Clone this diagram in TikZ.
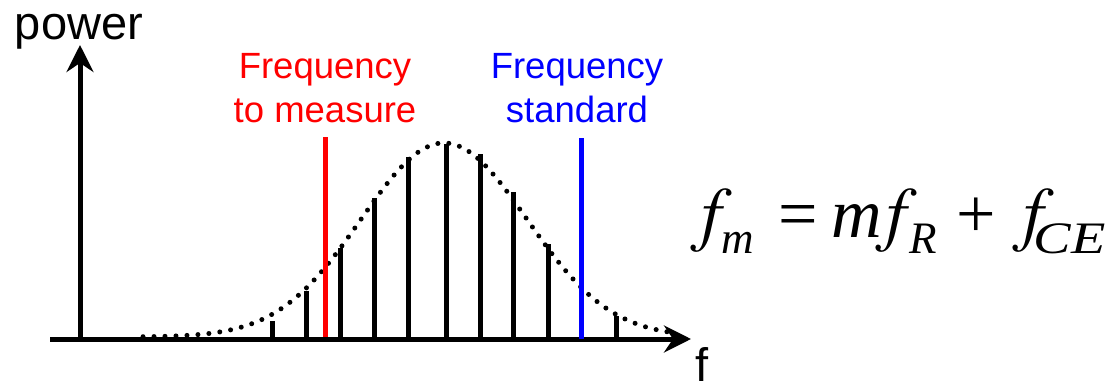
\documentclass[tikz,border=0pt]{standalone}
\usepackage{mathptmx}
\usepackage{fontspec}
\setmainfont{Liberation Sans}
\newfontfamily\timesf{Liberation Serif}
\usetikzlibrary{arrows.meta}
% offset, raise, size, x-scale, text
\newcommand\fpiece[5]{\makebox[0pt][l]{\kern#1pt\raisebox{#2pt}{\scalebox{#4}[1]{\fontsize{#3}{#3}\selectfont\timesf #5}}}}
\begin{document}
\begin{tikzpicture}[x=1pt,y=-1pt,
  axis/.style={line width=5pt,-{Stealth[length=27pt,width=27pt,inset=9pt]}},
  specline/.style={line width=5pt},
  lbl/.style={font=\fontsize{36.5}{44}\selectfont,inner sep=0pt,anchor=base},
  envelope/.style={line width=5pt,line cap=round,dash pattern=on 0pt off 11pt}]
\useasboundingbox (0,0) rectangle (1117,382);
% axes
\coordinate (xstart) at (50,339);
\coordinate (xend) at (691,339);
\coordinate (ystart) at (80,341);
\coordinate (ytop) at (80,45);
\draw[axis] (xstart) -- (xend);
\draw[axis] (ystart) -- (ytop);
\node[inner sep=0pt,anchor=base,font=\fontsize{47}{50}\selectfont] (power) at (79,40) {power};
\node[inner sep=0pt,anchor=north west,font=\fontsize{47}{50}\selectfont] (flab) at (695,347) {f};
% comb lines
\foreach \px/\top in {272/321,306/291,340/248,374/198,408/157,446/144,480/154,513/192,548/244,616/316}{
  \draw[specline] (\px,339) -- (\px,\top);
}
% envelope
\draw[envelope] plot[domain=143:667,samples=120] (\x,{337-194*exp(-((\x-444)/100)^2/1.3778)});
% measured frequency
\draw[line width=5pt,red] (325,337) -- (325,137);
\node[lbl,text=red] (meas1) at (325,79) {Frequency};
\node[lbl,text=red] (meas2) at (325,123) {to measure};
% standard
\draw[line width=5pt,blue] (581,339) -- (581,138);
\node[lbl,text=blue] (std1) at (577,79) {Frequency};
\node[lbl,text=blue] (std2) at (577,123) {standard};
% formula
\node[inner sep=0pt,anchor=base west] (formula) at (688,238) {%
  \fpiece{2}{0}{72}{1}{$f$}%
  \fpiece{33}{-16}{45}{1}{\itshape m}%
  \fpiece{90}{0}{70}{1}{=}%
  \fpiece{143}{0}{70}{1}{\itshape m}%
  \fpiece{187}{0}{72}{1}{$f$}%
  \fpiece{221}{-16}{45}{1}{\itshape R}%
  \fpiece{268}{0}{70}{1}{+}%
  \fpiece{324}{0}{72}{1}{$f$}%
  \fpiece{345}{-16}{45}{1.25}{\itshape CE}%
};
\end{tikzpicture}
\end{document}
